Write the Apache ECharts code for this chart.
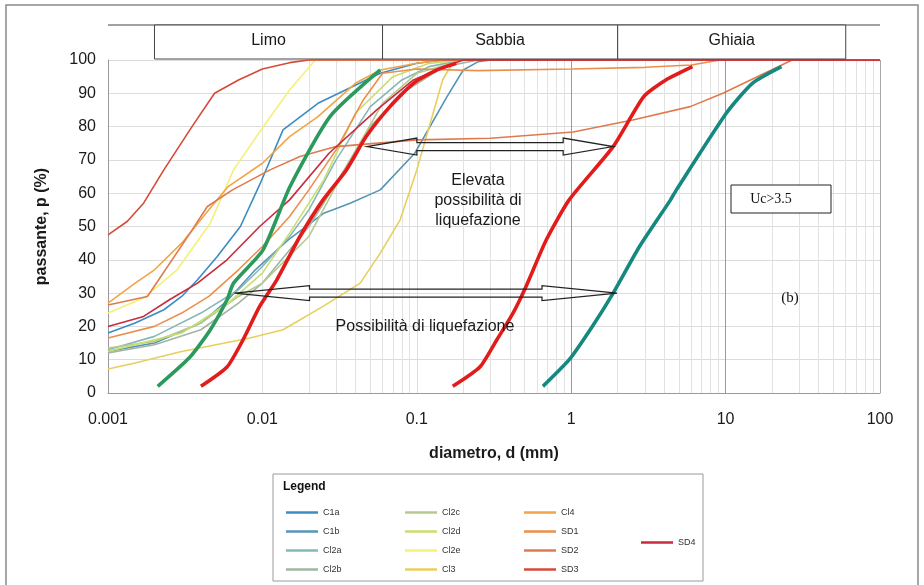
<!DOCTYPE html>
<html>
<head>
<meta charset="utf-8">
<script src="https://cdn.jsdelivr.net/npm/echarts@6/dist/echarts.min.js"></script>
<style>
html, body { margin: 0; padding: 0; background: #fff; }
#main { width: 924px; height: 585px; }
</style>
</head>
<body>
<div id="main"></div>
<script>
// curve granulometriche: [diametro mm, passante %]
var C1a  = [[0.001,18],[0.0015,21],[0.0023,25],[0.003,29],[0.0038,34],[0.0051,41],[0.0072,50],[0.0097,63],[0.0136,79],[0.0229,87],[0.058,96],[0.1,99],[0.15,100],[100,100]];
var C1b  = [[0.001,12.5],[0.002,15],[0.004,21],[0.006,28],[0.009,37],[0.0147,46],[0.025,54],[0.037,57],[0.058,61],[0.097,72],[0.157,89],[0.2,97],[0.25,99.5],[0.3,100],[100,100]];
var Cl2a = [[0.001,13],[0.002,17],[0.004,24],[0.007,31],[0.01,38],[0.015,47],[0.02,55],[0.03,70],[0.05,86],[0.08,94],[0.12,98],[0.2,100],[100,100]];
var Cl2b = [[0.001,12],[0.002,14.5],[0.004,19],[0.007,27],[0.01,33],[0.02,50],[0.03,63],[0.05,80],[0.08,90],[0.15,98],[0.25,100],[100,100]];
var Cl2c = [[0.001,13.5],[0.002,15.5],[0.004,21],[0.007,29],[0.01,33],[0.02,47],[0.035,68],[0.06,87],[0.1,96],[0.2,100],[100,100]];
var Cl2d = [[0.001,12.5],[0.003,18],[0.006,27],[0.01,36],[0.015,48],[0.025,64],[0.04,84],[0.07,95],[0.12,99],[0.2,100],[100,100]];
var Cl2e = [[0.001,24],[0.0017,28.5],[0.0028,37],[0.0046,51],[0.0065,67],[0.01,79.6],[0.015,91],[0.022,100],[100,100]];
var Cl3  = [[0.001,7.2],[0.0015,9],[0.0029,12.3],[0.0083,16.5],[0.0136,19],[0.0247,26],[0.043,33],[0.058,42],[0.078,52],[0.1,67],[0.147,94],[0.16,97],[0.18,100],[100,100]];
var Cl4  = [[0.001,27],[0.0015,33],[0.002,37],[0.003,45],[0.0045,55],[0.006,62],[0.01,69],[0.015,77],[0.0229,83],[0.04,93],[0.058,97],[0.1,99],[0.15,100],[100,100]];
var SD1  = [[0.001,16.5],[0.002,20],[0.003,24],[0.0045,29],[0.007,37],[0.01,44],[0.015,53],[0.02,61],[0.03,73],[0.045,88],[0.06,96],[0.1,97.3],[0.25,96.8],[1,97.3],[3,97.8],[6,98.5],[9.2,100],[100,100]];
var SD2  = [[0.001,26.4],[0.0018,29],[0.0034,48],[0.0044,56],[0.0064,61],[0.0112,67],[0.0175,71],[0.03,74],[0.1,76],[0.3,76.5],[1.03,78.4],[2.5,82],[5.9,86],[9.6,90],[27,100],[100,100]];
var SD3  = [[0.001,47.5],[0.00133,51.5],[0.0017,57],[0.0023,67],[0.0035,80],[0.0049,90],[0.007,94],[0.01,97.3],[0.015,99.2],[0.02,100],[100,100]];
var SD4  = [[0.001,20],[0.0017,23],[0.0025,28],[0.0038,33],[0.0059,40],[0.0096,50],[0.015,58],[0.027,72],[0.055,85],[0.095,94],[0.15,98],[0.2,100],[100,100]];

// fusi limite (curve spesse)
var fusoVerdeSx = [[0.0021,2],[0.0034,10.8],[0.0046,19],[0.0059,28],[0.0065,33],[0.0101,43],[0.0151,62],[0.0274,83],[0.058,97]];
var fusoRossoSx = [[0.004,2],[0.0059,7.8],[0.0075,16],[0.0096,26],[0.0124,34],[0.0175,47],[0.0247,58],[0.035,67],[0.047,77],[0.067,86],[0.095,93],[0.135,97],[0.18,99]];
var fusoRossoDx = [[0.171,2],[0.256,7.8],[0.33,16],[0.42,24],[0.51,32],[0.69,46],[0.97,58],[1.87,74],[2.95,89],[4.1,94],[6.1,98]];
var fusoVerdeDx = [[0.656,2],[0.97,10],[1.37,20],[1.87,30],[2.77,44],[4.4,58],[4.8,61],[10.1,84],[14.9,93],[23,98]];

var curveNames = ['C1a','C1b','Cl2a','Cl2b','Cl2c','Cl2d','Cl2e','Cl3','Cl4','SD1','SD2','SD3','SD4'];
var curveData  = [C1a, C1b, Cl2a, Cl2b, Cl2c, Cl2d, Cl2e, Cl3, Cl4, SD1, SD2, SD3, SD4];
var legendCols = [['C1a','C1b','Cl2a','Cl2b'],['Cl2c','Cl2d','Cl2e','Cl3'],['Cl4','SD1','SD2','SD3'],['SD4']];

// classi granulometriche (limiti in mm)
var zone = [['Limo',0.002,0.06],['Sabbia',0.06,2],['Ghiaia',2,60]];
var minorTicks = [];
[0.001,0.01,0.1,1,10].forEach(function(dec){
  for (var k = 2; k <= 9; k++) minorTicks.push(+(dec*k).toPrecision(3));
});

var colori = {
  C1a:'#3b8cc4', C1b:'#5596b6', Cl2a:'#86b7b9', Cl2b:'#a2b4a2', Cl2c:'#b6ca90', Cl2d:'#c9de6e',
  Cl2e:'#f4f078', Cl3:'#e8cf5c', Cl4:'#f1a546', SD1:'#ec8f4c', SD2:'#df7a4e', SD3:'#d64a38', SD4:'#c62c3e'
};

var series = curveNames.map(function(n, i){
  return {
    name: n, type: 'line', data: curveData[i], showSymbol: false, symbol: 'none',
    lineStyle: { width: 1.6, color: colori[n] }, itemStyle: { color: colori[n] }, z: 3
  };
});
[[fusoVerdeSx,'#2b9a5c'],[fusoRossoSx,'#e21b1b'],[fusoRossoDx,'#e21b1b'],[fusoVerdeDx,'#15887f']].forEach(function(f){
  series.push({ type: 'line', data: f[0], showSymbol: false, symbol: 'none', smooth: 0.2,
    lineStyle: { width: 3.6, color: f[1] }, z: 4, silent: true });
});
// griglia secondaria 2..9 di ogni decade
series.push({
  type: 'line', data: [], silent: true, z: 1,
  markLine: { silent: true, symbol: 'none', label: { show: false }, z: 1,
    lineStyle: { color: '#e2e2e2', type: 'solid', width: 1 },
    emphasis: { disabled: true },
    data: minorTicks.map(function(v){ return { xAxis: v }; }) }
});

var legends = legendCols.map(function(col, i){
  var lefts = [281, 400, 519, 636];
  return {
    data: col, orient: 'vertical', left: lefts[i], top: i === 3 ? 532 : 502,
    icon: 'rect', itemWidth: 32, itemHeight: 2.5, itemGap: 8,
    textStyle: { fontSize: 9, color: '#333', fontFamily: 'Liberation Sans', lineHeight: 11 },
    selectedMode: false
  };
});

var chart = echarts.init(document.getElementById('main'));
chart.setOption({
  backgroundColor: '#fff',
  animation: false,
  grid: { left: 108, right: 44, top: 60, bottom: 192 },
  legend: legends,
  xAxis: {
    type: 'log', logBase: 10, min: 0.001, max: 100,
    name: 'diametro, d (mm)', nameLocation: 'middle', nameGap: 53,
    nameTextStyle: { fontSize: 16, fontWeight: 'bold', color: '#1a1a1a', fontFamily: 'Liberation Sans' },
    axisLine: { lineStyle: { color: '#9a9a9a' } },
    axisTick: { show: false },
    axisLabel: { fontSize: 16, color: '#1a1a1a', margin: 19, fontFamily: 'Liberation Sans',
      formatter: function(v){ return String(v); } },
    splitLine: { show: true, lineStyle: { color: ['#a8a8a8','#9a9a9a','#dedede','#9a9a9a','#9a9a9a','#a8a8a8'], width: 1 } }
  },
  yAxis: {
    type: 'value', min: 0, max: 100, interval: 10,
    name: 'passante, p (%)', nameLocation: 'middle', nameGap: 58,
    nameTextStyle: { fontSize: 16, fontWeight: 'bold', color: '#1a1a1a', fontFamily: 'Liberation Sans' },
    axisLine: { show: true, lineStyle: { color: '#9a9a9a' } },
    axisTick: { show: false },
    axisLabel: { fontSize: 16, color: '#1a1a1a', margin: 12, fontFamily: 'Liberation Sans' },
    splitLine: { lineStyle: { color: '#dcdcdc' } }
  },
  series: series
});

// elementi grafici: intestazione, frecce, note
function px(d, p) { return chart.convertToPixel({ gridIndex: 0 }, [d, p]); }

var g = [];
g.push({ type: 'rect', shape: { x: 6, y: 5, width: 912, height: 590 },
  style: { fill: 'none', stroke: '#8a8a8a', lineWidth: 1.5 }, z: 0 });

var top100 = px(0.001, 100)[1];
var headTop = top100 - 35;
g.push({ type: 'line', shape: { x1: px(0.001,100)[0], y1: headTop, x2: px(100,100)[0], y2: headTop },
  style: { stroke: '#444', lineWidth: 1 }, z: 10 });
zone.forEach(function(zn){
  var x0 = px(zn[1], 100)[0], x1 = px(zn[2], 100)[0];
  g.push({ type: 'rect', shape: { x: x0, y: headTop, width: x1 - x0, height: 34 },
    style: { fill: '#fff', stroke: '#444', lineWidth: 1 }, z: 10 });
  g.push({ type: 'text', x: (x0 + x1) / 2, y: headTop + 16,
    style: { text: zn[0], fontSize: 16, fill: '#1a1a1a', fontFamily: 'Liberation Sans', align: 'center', verticalAlign: 'middle' }, z: 11 });
});

function freccia(d0, d1, p, head, hw, sw) {
  var L = px(d0, p), R = px(d1, p), y = L[1];
  var a = L[0] + head, b = R[0] - head;
  return { type: 'polygon', shape: { points: [
    [L[0], y], [a, y - hw], [a, y - sw], [b, y - sw], [b, y - hw], [R[0], y],
    [b, y + hw], [b, y + sw], [a, y + sw], [a, y + hw]] },
    style: { fill: 'none', stroke: '#222', lineWidth: 1.2 }, z: 12 };
}
g.push(freccia(0.0475, 1.87, 74, 50, 8.5, 4));
g.push(freccia(0.0066, 1.98, 30, 75, 7.5, 4));

var txt = { fontSize: 16, fill: '#1a1a1a', fontFamily: 'Liberation Sans', align: 'center', verticalAlign: 'middle' };
[['Elevata', 181], ['possibilità di', 201], ['liquefazione', 221]].forEach(function(t){
  g.push({ type: 'text', x: 478, y: t[1], style: Object.assign({ text: t[0] }, txt), z: 12 });
});
g.push({ type: 'text', x: 425, y: 327, style: Object.assign({ text: 'Possibilità di liquefazione' }, txt), z: 12 });

g.push({ type: 'rect', shape: { x: 731, y: 185, width: 100, height: 28 },
  style: { fill: '#fff', stroke: '#222', lineWidth: 1 }, z: 12 });
g.push({ type: 'text', x: 771, y: 199, style: { text: 'Uc>3.5', fontSize: 14, fill: '#111', fontFamily: 'Liberation Serif', align: 'center', verticalAlign: 'middle' }, z: 13 });
g.push({ type: 'text', x: 790, y: 298, style: { text: '(b)', fontSize: 15, fill: '#111', fontFamily: 'Liberation Serif', align: 'center', verticalAlign: 'middle' }, z: 13 });

g.push({ type: 'rect', shape: { x: 273, y: 474, width: 430, height: 107 },
  style: { fill: 'none', stroke: '#9a9a9a', lineWidth: 1 }, z: 5 });
g.push({ type: 'text', x: 283, y: 487, style: { text: 'Legend', fontSize: 12, fontWeight: 'bold', fill: '#111', fontFamily: 'Liberation Sans', verticalAlign: 'middle' }, z: 6 });

chart.setOption({ graphic: g });
</script>
</body>
</html>
